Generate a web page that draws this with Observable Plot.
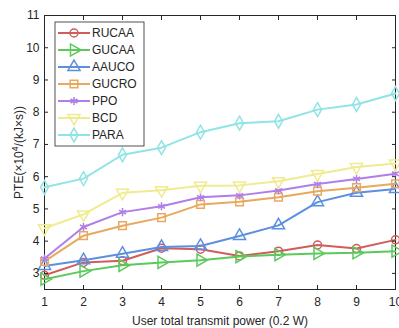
<!DOCTYPE html>
<html><head><meta charset="utf-8">
<script src="https://cdn.jsdelivr.net/npm/d3@7"></script>
<script src="https://cdn.jsdelivr.net/npm/@observablehq/plot@0.6"></script>
<style>body{margin:0;background:#fff;} #chart{position:relative;width:399px;height:328px;overflow:hidden;}</style>
</head><body><div id="chart"></div>
<script>
const power = [1, 2, 3, 4, 5, 6, 7, 8, 9, 10];
const yTicks = [3, 4, 5, 6, 7, 8, 9, 10, 11];
const seriesNames = ["RUCAA", "GUCAA", "AAUCO", "GUCRO", "PPO", "BCD", "PARA"];
const RUCAA = [2.94, 3.34, 3.39, 3.78, 3.75, 3.54, 3.69, 3.88, 3.77, 4.04];
const GUCAA = [2.82, 3.07, 3.25, 3.34, 3.41, 3.52, 3.58, 3.62, 3.64, 3.69];
const AAUCO = [3.23, 3.41, 3.61, 3.82, 3.85, 4.16, 4.49, 5.21, 5.50, 5.62];
const GUCRO = [3.37, 4.17, 4.48, 4.73, 5.14, 5.22, 5.36, 5.55, 5.66, 5.78];
const PPO   = [3.46, 4.44, 4.90, 5.08, 5.36, 5.42, 5.57, 5.77, 5.93, 6.09];
const BCD   = [4.40, 4.83, 5.50, 5.58, 5.72, 5.73, 5.86, 6.08, 6.30, 6.41];
const PARA  = [5.67, 5.94, 6.68, 6.90, 7.38, 7.66, 7.72, 8.08, 8.24, 8.58];
const seriesValues = [RUCAA, GUCAA, AAUCO, GUCRO, PPO, BCD, PARA];
const colors = ["#d05c5c", "#5cc95c", "#5c8fe0", "#e9a85e", "#b07ee8", "#efeb8e", "#90e4e4"];
const symbols = ["circle", "triangle", "triangle", "square", "asterisk", "triangle", "diamond"];
const rotations = [0, 90, 0, 0, 0, 180, 0];
const radii = [4, 4.5, 4.5, 4.3, 3.8, 4.5, 4.2];

const rows = seriesNames.map((name, i) => power.map((x, j) => ({series: name, x, y: seriesValues[i][j]})));

const ink = "#262626";
const marks = [];
rows.forEach((data, i) => {
  marks.push(Plot.line(data, {x: "x", y: "y", stroke: colors[i], strokeWidth: 2}));
  marks.push(Plot.dot(data, {x: "x", y: "y", symbol: symbols[i], rotate: rotations[i], r: radii[i], stroke: colors[i], strokeWidth: 1.5, fill: "none"}));
});

const plot = Plot.plot({
  width: 399, height: 328,
  marginLeft: 44, marginRight: 4, marginTop: 15, marginBottom: 39,
  x: {domain: [1, 10]},
  y: {domain: [2.5, 11]},
  style: {fontFamily: "'Liberation Sans', Arial, sans-serif", fontSize: "12px", color: ink, background: "#fff"},
  marks: [
    Plot.frame({stroke: ink, strokeWidth: 1}),
    ...marks,
    Plot.axisX(power, {anchor: "bottom", tickSize: -4, tickPadding: 12, stroke: ink, label: "User total transmit power (0.2 W)", labelAnchor: "center", labelOffset: 35, labelArrow: "none"}),
    Plot.axisX(power, {anchor: "top", tickSize: -4, tickFormat: () => "", label: null, stroke: ink}),
    Plot.axisY(yTicks, {anchor: "left", tickSize: -4, tickPadding: 9, stroke: ink, label: "PTE(×10⁴/(kJ×s))", labelAnchor: "center", labelOffset: 30, labelArrow: "none"}),
    Plot.axisY(yTicks, {anchor: "right", tickSize: -4, tickFormat: () => "", label: null, stroke: ink})
  ]
});
document.getElementById("chart").appendChild(plot);

const svg = d3.select(plot);

// y label with a real superscript
svg.selectAll("text").filter(function() { return this.textContent === "PTE(×10⁴/(kJ×s))"; })
  .each(function() {
    const t = d3.select(this);
    t.text(null);
    t.append("tspan").text("PTE(×10");
    t.append("tspan").attr("font-size", "8.5px").attr("dy", "-0.55em").text("4");
    t.append("tspan").attr("dy", "0.38em").text("/(kJ×s))");
  });

// legend
const lg = svg.append("g").attr("transform", "translate(55,22)");
lg.append("rect").attr("width", 89).attr("height", 124).attr("fill", "#fff").attr("stroke", ink).attr("stroke-width", 0.8);
seriesNames.forEach((name, i) => {
  const cy = 11 + i * 17;
  const g = lg.append("g").attr("transform", `translate(0,${cy})`);
  g.append("line").attr("x1", 3).attr("x2", 35).attr("y1", 0).attr("y2", 0).attr("stroke", colors[i]).attr("stroke-width", 2);
  const sym = {circle: d3.symbolCircle, triangle: d3.symbolTriangle, square: d3.symbolSquare, asterisk: d3.symbolAsterisk, diamond: d3.symbolDiamond}[symbols[i]];
  g.append("path").attr("d", d3.symbol(sym, Math.PI * radii[i] * radii[i])())
    .attr("transform", `translate(19,0) rotate(${rotations[i]})`)
    .attr("fill", "none").attr("stroke", colors[i]).attr("stroke-width", 1.5);
  g.append("text").attr("x", 37).attr("y", 0).attr("dy", "0.36em").attr("text-anchor", "start")
    .attr("font-size", "12px").attr("fill", ink).text(name);
});
</script>
</body></html>
